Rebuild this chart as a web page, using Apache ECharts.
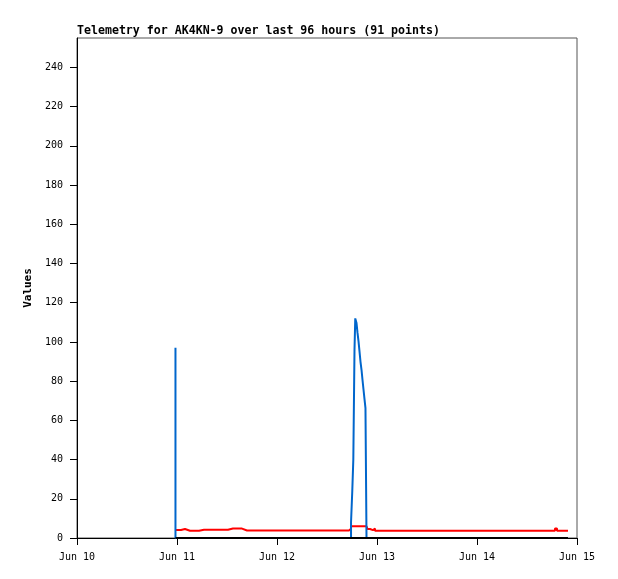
<!DOCTYPE html>
<html><head><meta charset="utf-8">
<script src="https://cdn.jsdelivr.net/npm/echarts@6/dist/echarts.min.js"></script>
<style>html,body{margin:0;padding:0;background:#fff}#c{width:618px;height:579px}</style>
</head><body><div id="c"></div>
<script>
const titleText = 'Telemetry for AK4KN-9 over last 96 hours (91 points)';
const yName = 'Values';
const xTickLabels = ['Jun 10','Jun 11','Jun 12','Jun 13','Jun 14','Jun 15'];
const xStart = '2024-06-10T00:00';
const yTicks = [0,20,40,60,80,100,120,140,160,180,200,220,240];
const yMax = 255;
const times = [
 '2024-06-10T23:38','2024-06-11T00:14','2024-06-11T00:58','2024-06-11T01:55','2024-06-11T03:07',
 '2024-06-11T04:19','2024-06-11T05:17','2024-06-11T06:29','2024-06-11T07:41','2024-06-11T08:53',
 '2024-06-11T10:05','2024-06-11T11:17','2024-06-11T12:14','2024-06-11T13:26','2024-06-11T14:38',
 '2024-06-11T15:36','2024-06-11T16:48','2024-06-11T17:58','2024-06-11T19:12','2024-06-11T20:24',
 '2024-06-11T21:36','2024-06-11T22:48','2024-06-12T00:02','2024-06-12T01:12','2024-06-12T02:24',
 '2024-06-12T03:36','2024-06-12T04:48','2024-06-12T05:59','2024-06-12T07:12','2024-06-12T08:24',
 '2024-06-12T09:36','2024-06-12T10:48','2024-06-12T12:01','2024-06-12T13:12','2024-06-12T14:24',
 '2024-06-12T15:36','2024-06-12T16:48','2024-06-12T17:17','2024-06-12T17:46','2024-06-12T18:04',
 '2024-06-12T18:19','2024-06-12T18:36','2024-06-12T18:47','2024-06-12T19:05','2024-06-12T19:19',
 '2024-06-12T19:34','2024-06-12T19:48','2024-06-12T20:02','2024-06-12T20:17','2024-06-12T20:31',
 '2024-06-12T20:46','2024-06-12T21:00','2024-06-12T21:14','2024-06-12T21:29','2024-06-12T21:43',
 '2024-06-12T22:19','2024-06-12T23:02','2024-06-12T23:31','2024-06-13T00:43','2024-06-13T02:10',
 '2024-06-13T03:36','2024-06-13T05:02','2024-06-13T06:29','2024-06-13T07:55','2024-06-13T09:22',
 '2024-06-13T10:48','2024-06-13T12:14','2024-06-13T13:41','2024-06-13T15:07','2024-06-13T16:34',
 '2024-06-13T18:00','2024-06-13T19:26','2024-06-13T20:53','2024-06-13T22:19','2024-06-13T23:46',
 '2024-06-14T01:12','2024-06-14T02:38','2024-06-14T04:05','2024-06-14T05:31','2024-06-14T06:58',
 '2024-06-14T08:24','2024-06-14T09:50','2024-06-14T11:17','2024-06-14T12:43','2024-06-14T14:10',
 '2024-06-14T15:36','2024-06-14T17:02','2024-06-14T18:43','2024-06-14T19:12','2024-06-14T20:24',
 '2024-06-14T21:50'
];
const blueValues = [
 97,0,0,0,0,0,0,0,0,0,
 0,0,0,0,0,0,0,0,0,0,
 0,0,0,0,0,0,0,0,0,0,
 0,0,0,0,0,0,0,0,0,8,
 24,40,96,112,109.6,104.7,100.3,95.2,90,85.8,
 80.7,75.6,70.8,66.2,0,0,0,0,0,0,
 0,0,0,0,0,0,0,0,0,0,
 0,0,0,0,0,0,0,0,0,0,
 0,0,0,0,0,0,0,0,0,0,
 0
];
const redValues = [
 4.1,4.1,4.1,4.6,3.7,3.7,3.7,4.2,4.2,4.2,
 4.2,4.2,4.2,4.8,4.8,4.8,3.8,3.8,3.8,3.8,
 3.8,3.8,3.8,3.8,3.8,3.8,3.8,3.8,3.8,3.8,
 3.8,3.8,3.8,3.8,3.8,3.8,3.8,3.8,4.7,6.0,
 6.0,6.0,6.0,6.0,6.0,6.0,6.0,6.0,6.0,6.0,
 6.0,6.0,6.0,6.0,6.0,4.6,4.0,4.9,3.7,3.7,
 3.7,3.7,3.7,3.7,3.7,3.7,3.7,3.7,3.7,3.7,
 3.7,3.7,3.7,3.7,3.7,3.7,3.7,3.7,3.7,3.7,
 3.7,3.7,3.7,3.7,3.7,3.7,3.7,3.7,4.9,3.7,
 3.7
];
const blackValues = [
 0,0,0,0,0,0,0,0,0,0,
 0,0,0,0,0,0,0,0,0,0,
 0,0,0,0,0,0,0,0,0,0,
 0,0,0,0,0,0,0,0,0,0,
 0,0,0,0,0,0,0,0,0,0,
 0,0,0,0,0,0,0,0,0,0,
 0,0,0,0,0,0,0,0,0,0,
 0,0,0,0,0,0,0,0,0,0,
 0,0,0,0,0,0,0,0,0,0,
 0
];

const DAY = 86400000;
const toMs = s => Date.parse(s + ':00Z');
const xMin = toMs(xStart);
const xMax = xMin + (xTickLabels.length - 1) * DAY;
const xTicks = xTickLabels.map((_, i) => xMin + i * DAY);
const pairs = vals => times.map((t, i) => [toMs(t), vals[i]]);
const mono = 'DejaVu Sans Mono';

const chart = echarts.init(document.getElementById('c'), null, {renderer: 'canvas'});
chart.setOption({
  animation: false,
  backgroundColor: '#fff',
  title: {
    text: titleText, left: 72, top: 20, padding: 5,
    textStyle: {fontFamily: mono, fontSize: 11.6, fontWeight: 'bold', color: '#000'}
  },
  grid: {left: 77, right: 41, top: 38, bottom: 41, show: true, borderColor: '#555', borderWidth: 1, backgroundColor: 'transparent'},
  xAxis: {
    type: 'value', min: xMin, max: xMax, interval: DAY,
    axisLine: {show: true, onZero: false, lineStyle: {color: '#000', width: 1}},
    axisTick: {show: true, inside: false, length: 7, customValues: xTicks, lineStyle: {color: '#000'}},
    axisLabel: {
      customValues: xTicks, margin: 14, color: '#000', fontFamily: mono, fontSize: 10,
      formatter: v => xTickLabels[Math.round((v - xMin) / DAY)]
    },
    splitLine: {show: false}
  },
  yAxis: {
    type: 'value', min: 0, max: yMax, interval: 20,
    name: yName, nameLocation: 'middle', nameGap: 40,
    nameTextStyle: {fontFamily: mono, fontSize: 11, fontWeight: 'bold', color: '#000'},
    axisLine: {show: true, lineStyle: {color: '#000', width: 1}},
    axisTick: {show: true, inside: false, length: 7, customValues: yTicks, lineStyle: {color: '#000'}},
    axisLabel: {customValues: yTicks, margin: 14, color: '#000', fontFamily: mono, fontSize: 10},
    splitLine: {show: false}
  },
  series: [
    {type: 'line', step: 'start', data: pairs(redValues), showSymbol: false, z: 2,
     lineStyle: {color: '#ff0000', width: 2}, itemStyle: {color: '#ff0000'}},
    {type: 'line', step: 'start', data: pairs(blueValues), showSymbol: false, z: 3,
     lineStyle: {color: '#0066cc', width: 2}, itemStyle: {color: '#0066cc'}},
    {type: 'line', step: 'start', data: pairs(blackValues), showSymbol: false, z: 4,
     lineStyle: {color: '#000000', width: 2}, itemStyle: {color: '#000'}}
  ]
});
</script></body></html>
